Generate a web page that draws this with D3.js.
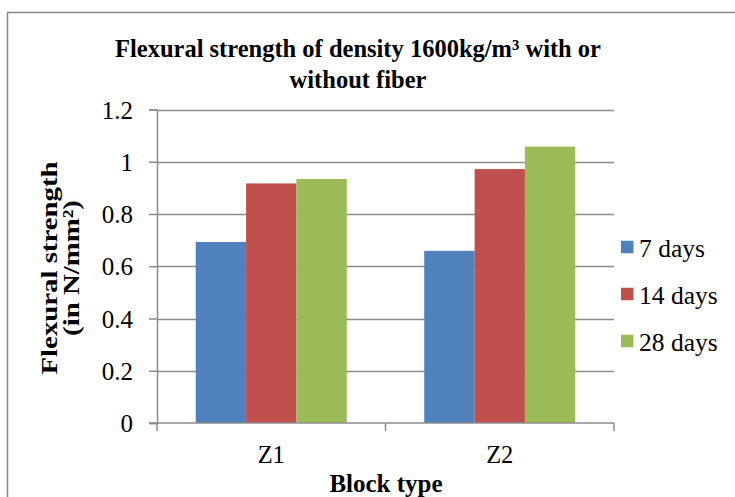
<!DOCTYPE html>
<html>
<head>
<meta charset="utf-8">
<script src="https://cdn.jsdelivr.net/npm/d3@7"></script>
<style>
  html, body { margin: 0; padding: 0; background: #fff; }
  svg { display: block; }
  svg text { font-family: "Liberation Serif", "Times New Roman", serif; fill: #000; }
</style>
</head>
<body>
<svg id="chart" width="735" height="497"></svg>
<script>
// Block types along the x axis
const blockTypes = ["Z1", "Z2"];
// Curing ages (legend entries)
const ages = ["7 days", "14 days", "28 days"];
// Flexural strength (N/mm²) for each age, per block type
const days7 = [0.693, 0.659];
const days14 = [0.917, 0.972];
const days28 = [0.934, 1.058];
const yTicks = [0, 0.2, 0.4, 0.6, 0.8, 1, 1.2];
const colors = ["#4F81BD", "#C0504D", "#9BBB59"];

const seriesValues = [days7, days14, days28];
const rows = blockTypes.map((b, i) => ({
  block: b,
  values: ages.map((a, j) => ({ age: a, value: seriesValues[j][i] }))
}));

const svg = d3.select("#chart");
const plot = { left: 157, right: 614, top: 109.5, bottom: 423 };
const axisColor = "#8c8c8c";

// chart frame
svg.append("rect")
  .attr("x", 7.5).attr("y", 12.5)
  .attr("width", 740).attr("height", 500)
  .attr("fill", "none").attr("stroke", "#898989").attr("stroke-width", 1.5);

const x0 = d3.scaleBand().domain(blockTypes)
  .range([plot.left, plot.right]).paddingInner(0.339).paddingOuter(0.1695);
const x1 = d3.scaleBand().domain(ages).range([0, x0.bandwidth()]);
const y = d3.scaleLinear().domain([0, 1.2]).range([plot.bottom, plot.top]);

// horizontal gridlines
svg.append("g").selectAll("line").data(yTicks.filter(t => t > 0)).join("line")
  .attr("x1", plot.left).attr("x2", plot.right)
  .attr("y1", d => Math.round(y(d)) + 0.5).attr("y2", d => Math.round(y(d)) + 0.5)
  .attr("stroke", axisColor).attr("stroke-width", 1.5);

// bars
const groups = svg.append("g").selectAll("g").data(rows).join("g")
  .attr("transform", d => `translate(${x0(d.block)},0)`);
groups.selectAll("rect").data(d => d.values).join("rect")
  .attr("x", d => x1(d.age))
  .attr("width", x1.bandwidth())
  .attr("y", d => y(d.value))
  .attr("height", d => y(0) - y(d.value))
  .attr("fill", (d, i) => colors[i]);

// y axis
const yAxis = svg.append("g")
  .attr("transform", `translate(${plot.left},0)`)
  .call(d3.axisLeft(y).tickValues(yTicks).tickFormat(d3.format("~g")).tickSize(8).tickPadding(16));
yAxis.attr("font-family", null).attr("font-size", null);
yAxis.select(".domain").attr("stroke", axisColor).attr("stroke-width", 1.5);
yAxis.selectAll(".tick line").attr("stroke", axisColor).attr("stroke-width", 1.5);
yAxis.selectAll("text").style("font-size", "25px").attr("dy", "0.34em");

// x axis with tick marks at category boundaries
const xAxisG = svg.append("g").attr("transform", `translate(0,${plot.bottom})`);
xAxisG.append("line").attr("x1", plot.left - 8).attr("x2", plot.right)
  .attr("y1", 0).attr("y2", 0).attr("stroke", axisColor).attr("stroke-width", 1.5);
const boundaries = [plot.left, (plot.left + plot.right) / 2, plot.right];
xAxisG.selectAll("line.tk").data(boundaries).join("line").attr("class", "tk")
  .attr("x1", d => d).attr("x2", d => d).attr("y1", 0).attr("y2", 8)
  .attr("stroke", axisColor).attr("stroke-width", 1.5);
xAxisG.selectAll("text").data(blockTypes).join("text")
  .attr("x", d => x0(d) + x0.bandwidth() / 2).attr("y", 40)
  .attr("text-anchor", "middle").style("font-size", "24.5px").text(d => d);

// titles
const title = svg.append("text").attr("text-anchor", "middle")
  .attr("font-weight", "bold").style("font-size", "24.5px");
title.append("tspan").attr("x", 358).attr("y", 57).text("Flexural strength of density 1600kg/m³ with or");
title.append("tspan").attr("x", 358).attr("y", 88).text("without fiber");

svg.append("text").attr("x", 386).attr("y", 492).attr("text-anchor", "middle")
  .attr("font-weight", "bold").style("font-size", "25px").text("Block type");

// rotated y-axis title, stretched a little along its length
const yTitle = svg.append("text").attr("transform", "translate(0,268) rotate(-90) scale(1.2,1)")
  .attr("text-anchor", "middle").attr("font-weight", "bold").style("font-size", "24px");
yTitle.append("tspan").attr("x", 0).attr("y", 57).text("Flexural strength");
yTitle.append("tspan").attr("x", 0).attr("y", 79).text("(in N/mm²)");

// legend
const legend = svg.append("g").selectAll("g").data(ages).join("g")
  .attr("transform", (d, i) => `translate(621,${247 + i * 47})`);
legend.append("rect").attr("x", 0).attr("y", -6.25).attr("width", 12.5).attr("height", 12.5)
  .attr("fill", (d, i) => colors[i]);
legend.append("text").attr("x", 18).attr("y", 9.5).style("font-size", "25.5px").text(d => d);
</script>
</body>
</html>
